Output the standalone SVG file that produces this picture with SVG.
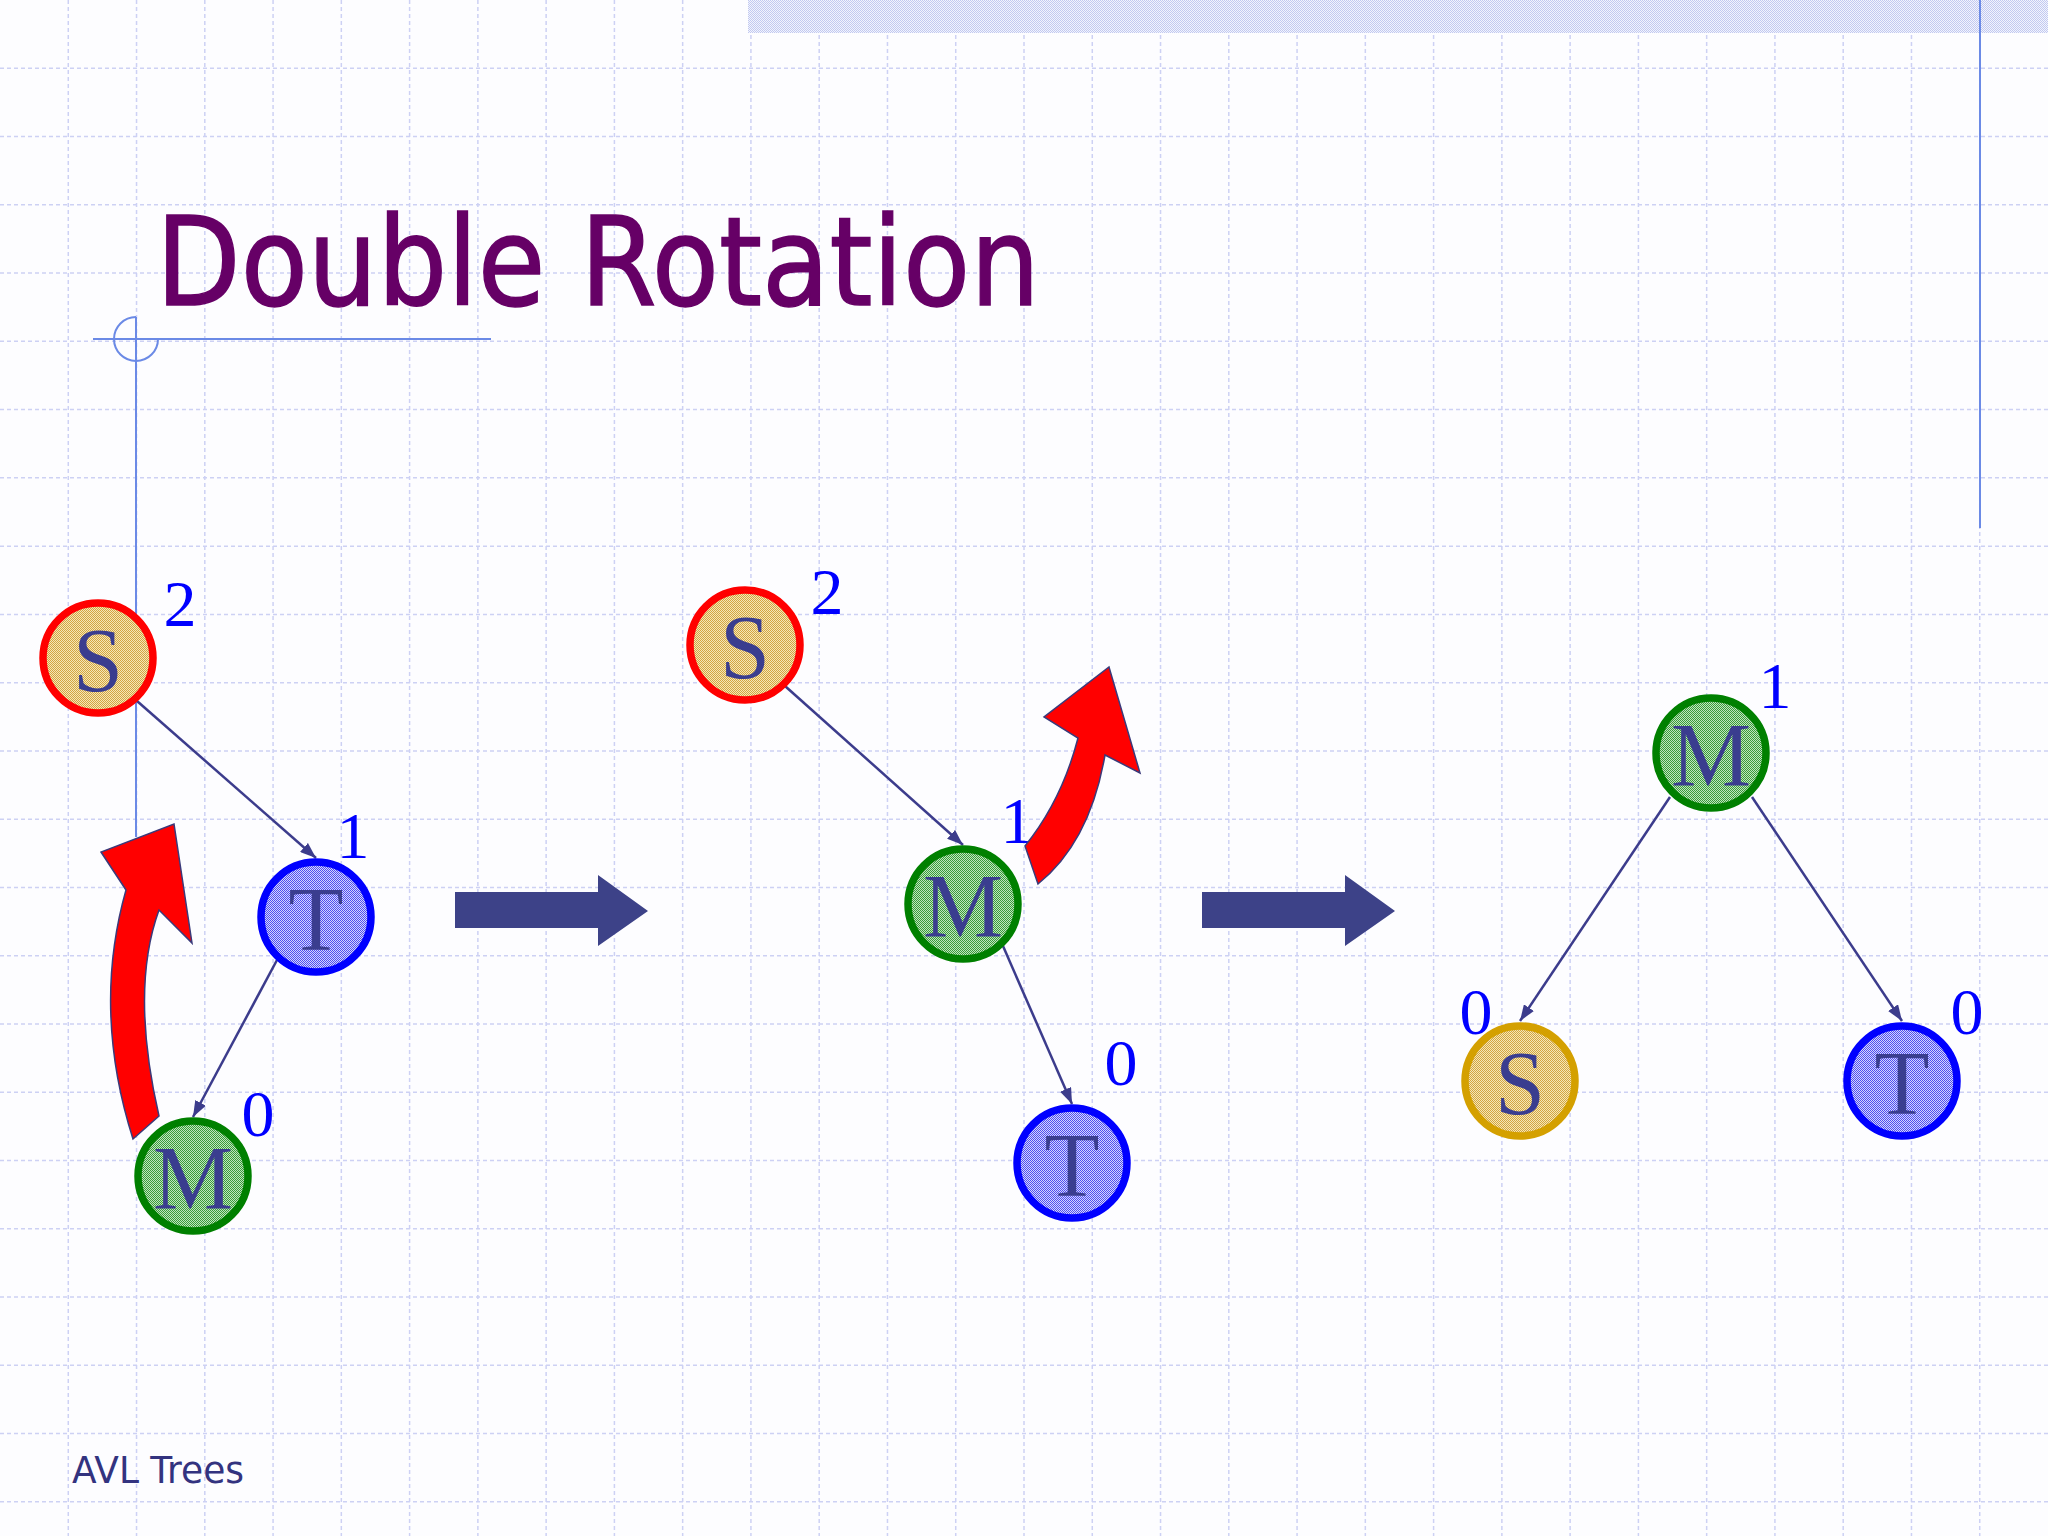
<svg xmlns="http://www.w3.org/2000/svg" width="2048" height="1536" viewBox="0 0 2048 1536">
<style>
.grid{fill:none;stroke:#cdd1f4;stroke-width:1.5;stroke-dasharray:4 3}
.guide{fill:none;stroke:#6b8ae6;stroke-width:2}
.edge{fill:none;stroke:#3c3c8c;stroke-width:2.5;marker-end:url(#ah)}
.ring{stroke-width:7.5}
.lbl{font-family:"Liberation Serif","Times New Roman",serif;font-size:90px;fill:#3a3d8f;text-anchor:middle}
.bal{font-family:"Liberation Serif","Times New Roman",serif;font-size:66px;fill:#0000ff;text-anchor:middle}
.red{fill:#ff0000;stroke:#3a3a7a;stroke-width:1.5;stroke-linejoin:miter}
.block{fill:#3d4288}
</style>
<defs>
<pattern id="pS" width="2" height="2" patternUnits="userSpaceOnUse"><rect width="2" height="2" fill="#f6e8b4"/><rect width="1" height="1" fill="#d2a444"/><rect x="1" y="1" width="1" height="1" fill="#d2a444"/></pattern>
<pattern id="pT" width="2" height="2" patternUnits="userSpaceOnUse"><rect width="2" height="2" fill="#d4d4ff"/><rect width="1" height="1" fill="#5050ee"/><rect x="1" y="1" width="1" height="1" fill="#5050ee"/></pattern>
<pattern id="pM" width="2" height="2" patternUnits="userSpaceOnUse"><rect width="2" height="2" fill="#bfe6bf"/><rect width="1" height="1" fill="#3a9a3a"/><rect x="1" y="1" width="1" height="1" fill="#3a9a3a"/></pattern>
<pattern id="pBand" width="2" height="2" patternUnits="userSpaceOnUse"><rect width="2" height="2" fill="#f2f4fd"/><rect width="1" height="1" fill="#c2c9f0"/><rect x="1" y="1" width="1" height="1" fill="#c2c9f0"/></pattern>
<marker id="ah" markerWidth="16" markerHeight="12" refX="16" refY="6" orient="auto" markerUnits="userSpaceOnUse"><path d="M0,0 L16,6 L0,12 z" fill="#3c3c8c"/></marker>
</defs>
<rect width="2048" height="1536" fill="#fdfdff"/>
<g id="grid">
<path class="grid" d="M68.27 0V1536M136.53 0V1536M204.8 0V1536M273.07 0V1536M341.33 0V1536M409.6 0V1536M477.87 0V1536M546.13 0V1536M614.4 0V1536M682.67 0V1536M750.93 0V1536M819.2 0V1536M887.47 0V1536M955.73 0V1536M1024 0V1536M1092.27 0V1536M1160.53 0V1536M1228.8 0V1536M1297.07 0V1536M1365.33 0V1536M1433.6 0V1536M1501.87 0V1536M1570.13 0V1536M1638.4 0V1536M1706.67 0V1536M1774.93 0V1536M1843.2 0V1536M1911.47 0V1536M1979.73 0V1536"/>
<path class="grid" d="M0 68.27H2048M0 136.53H2048M0 204.8H2048M0 273.07H2048M0 341.33H2048M0 409.6H2048M0 477.87H2048M0 546.13H2048M0 614.4H2048M0 682.67H2048M0 750.93H2048M0 819.2H2048M0 887.47H2048M0 955.73H2048M0 1024H2048M0 1092.27H2048M0 1160.53H2048M0 1228.8H2048M0 1297.07H2048M0 1365.33H2048M0 1433.6H2048M0 1501.87H2048"/>
</g>
<rect id="band" x="748" y="0" width="1300" height="33" fill="url(#pBand)"/>
<g id="guides">
<line class="guide" x1="1980" y1="0" x2="1980" y2="528"/>
<line class="guide" x1="93" y1="339" x2="491" y2="339"/>
<line class="guide" x1="136" y1="317" x2="136" y2="837"/>
<path class="guide" d="M136,317 A22,22 0 1 0 158,339"/>
</g>
<text id="title" x="156" y="305" font-family="DejaVu Sans, Verdana, sans-serif" font-size="123" fill="#660066" stroke="#660066" stroke-width="1.5" textLength="884" lengthAdjust="spacingAndGlyphs">Double Rotation</text>
<g id="connectors">
<line class="edge" x1="137" y1="701" x2="316" y2="858"/>
<line class="edge" x1="277" y1="960" x2="193" y2="1117"/>
<line class="edge" x1="785" y1="686" x2="963" y2="845"/>
<line class="edge" x1="1003" y1="946" x2="1072" y2="1104"/>
<line class="edge" x1="1670" y1="797" x2="1520" y2="1021"/>
<line class="edge" x1="1752" y1="797" x2="1902" y2="1021"/>
</g>
<g id="transitions">
<path class="block" d="M455,892 H598 V875 L648,911 L598,946 V928 H455 Z"/>
<path class="block" d="M1202,892 H1345 V875 L1395,911 L1345,946 V928 H1202 Z"/>
</g>
<g id="tree1-S">
<circle class="ring" cx="98" cy="658" r="55" fill="url(#pS)" stroke="#ff0000"/>
<text class="lbl" x="98" y="691">S</text>
<text class="bal" x="180" y="626">2</text>
</g>
<g id="tree1-T">
<circle class="ring" cx="316" cy="917" r="55" fill="url(#pT)" stroke="#0000ff"/>
<text class="lbl" x="316" y="950">T</text>
<text class="bal" x="353" y="858">1</text>
</g>
<g id="tree1-M">
<circle class="ring" cx="193" cy="1176" r="55" fill="url(#pM)" stroke="#008000"/>
<text class="lbl" x="193" y="1209">M</text>
<text class="bal" x="258" y="1136">0</text>
</g>
<path id="rot1" class="red" d="M133,1139 Q92,1010 126,890 L101,852 L174,824 L192,943 L159,910 Q130,990 159,1116 Z"/>
<g id="tree2-S">
<circle class="ring" cx="745" cy="645" r="55" fill="url(#pS)" stroke="#ff0000"/>
<text class="lbl" x="745" y="678">S</text>
<text class="bal" x="827" y="614">2</text>
</g>
<g id="tree2-M">
<circle class="ring" cx="963" cy="904" r="55" fill="url(#pM)" stroke="#008000"/>
<text class="lbl" x="963" y="937">M</text>
<text class="bal" x="1017" y="843">1</text>
</g>
<g id="tree2-T">
<circle class="ring" cx="1072" cy="1163" r="55" fill="url(#pT)" stroke="#0000ff"/>
<text class="lbl" x="1072" y="1196">T</text>
<text class="bal" x="1121" y="1085">0</text>
</g>
<path id="rot2" class="red" d="M1025,846 Q1062,800 1078,738 L1044,717 L1109,667 L1140,773 L1105,755 Q1090,842 1038,884 Z"/>
<g id="tree3-M">
<circle class="ring" cx="1711" cy="753" r="55" fill="url(#pM)" stroke="#008000"/>
<text class="lbl" x="1711" y="786">M</text>
<text class="bal" x="1775" y="708">1</text>
</g>
<g id="tree3-S">
<circle class="ring" cx="1520" cy="1081" r="55" fill="url(#pS)" stroke="#d4a000"/>
<text class="lbl" x="1520" y="1114">S</text>
<text class="bal" x="1476" y="1034">0</text>
</g>
<g id="tree3-T">
<circle class="ring" cx="1902" cy="1081" r="55" fill="url(#pT)" stroke="#0000ff"/>
<text class="lbl" x="1902" y="1114">T</text>
<text class="bal" x="1967" y="1034">0</text>
</g>
<text id="footer" x="72" y="1483" font-family="DejaVu Sans, Verdana, sans-serif" font-size="38" fill="#33337f" textLength="172" lengthAdjust="spacingAndGlyphs">AVL Trees</text>
</svg>
